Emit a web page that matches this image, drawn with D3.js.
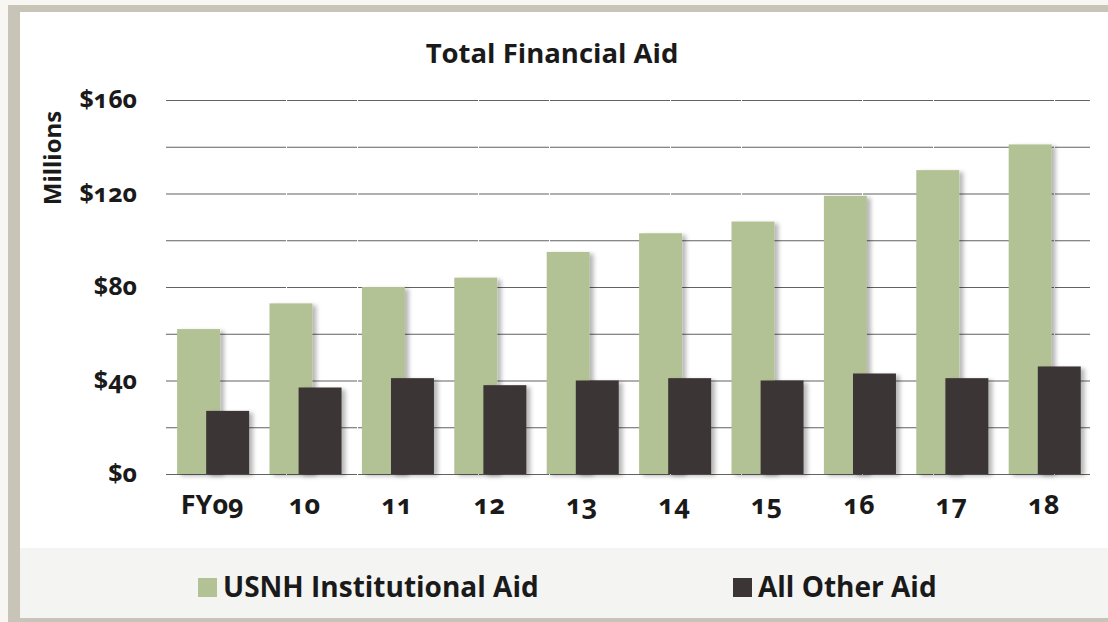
<!DOCTYPE html>
<html>
<head>
<meta charset="utf-8">
<script src="https://cdn.jsdelivr.net/npm/d3@7"></script>
<style>
  html, body { margin: 0; padding: 0; background: #ffffff; }
  svg { display: block; }
  text { font-family: "Open Sans", "Noto Sans", sans-serif; font-weight: 700; fill: #1a1a1a;
         font-variant-numeric: oldstyle-nums; font-feature-settings: "onum" 1; }
</style>
</head>
<body>
<svg id="chart" width="1108" height="622"></svg>
<script>
// Fiscal years on the category axis
const categories = ["FY09", "10", "11", "12", "13", "14", "15", "16", "17", "18"];
// Aid totals, $ millions
const institutionalAid = [62, 73, 80, 84, 95, 103, 108, 119, 130, 141];
const otherAid = [27, 37, 41, 38, 40, 41, 40, 43, 41, 46];
// Axis ticks
const yTickValues = [0, 40, 80, 120, 160];
const yGridValues = [0, 20, 40, 60, 80, 100, 120, 140, 160];
const seriesNames = ["USNH Institutional Aid", "All Other Aid"];

const W = 1108, H = 622;
const green = "#b3c295", dark = "#3b3535";

const svg = d3.select("#chart");

const defs = svg.append("defs");
const shadow = defs.append("filter").attr("id", "barShadow")
  .attr("x", "-20%").attr("y", "-5%").attr("width", "150%").attr("height", "115%");
shadow.append("feDropShadow").attr("dx", 4).attr("dy", 2).attr("stdDeviation", 2.2)
  .attr("flood-color", "#000").attr("flood-opacity", 0.28);

// Card frame and legend band
svg.append("rect").attr("x", 0).attr("y", 0).attr("width", W).attr("height", H).attr("fill", "#f7f6f2");
svg.append("rect").attr("x", 8).attr("y", 5).attr("width", W).attr("height", 617).attr("fill", "#c9c4b8");
svg.append("rect").attr("x", 20).attr("y", 12).attr("width", W).attr("height", 606).attr("fill", "#ffffff");
svg.append("rect").attr("x", 20).attr("y", 548).attr("width", W).attr("height", 70).attr("fill", "#f4f4f2");

const x = d3.scaleBand().domain(categories).range([166, 1090]).paddingInner(0).paddingOuter(0);
const y = d3.scaleLinear().domain([0, 160]).range([474, 100]);
const bw = x.bandwidth();

// Gridlines
svg.append("g").attr("class", "grid")
  .attr("transform", "translate(166,0)")
  .call(d3.axisLeft(y).tickValues(yGridValues).tickSize(-(1090 - 166)).tickFormat(""))
  .call(g => g.select(".domain").remove())
  .call(g => g.selectAll("line").attr("stroke", "#626260").attr("stroke-width", 1.2)
    .attr("stroke-dasharray", "120,1,70,1"));

// Institutional aid bars (behind)
svg.append("g").selectAll("rect").data(institutionalAid).join("rect")
  .attr("x", (d, i) => x(categories[i]) + bw * 0.12)
  .attr("width", bw * 0.465)
  .attr("y", d => y(d))
  .attr("height", d => y(0) - y(d))
  .attr("fill", green)
  .attr("filter", "url(#barShadow)");

// All other aid bars (front)
svg.append("g").selectAll("rect").data(otherAid).join("rect")
  .attr("x", (d, i) => x(categories[i]) + bw * 0.435)
  .attr("width", bw * 0.465)
  .attr("y", d => y(d))
  .attr("height", d => y(0) - y(d))
  .attr("fill", dark)
  .attr("filter", "url(#barShadow)");

// Y axis labels
svg.append("g")
  .attr("transform", "translate(137,0)")
  .call(d3.axisLeft(y).tickValues(yTickValues).tickSize(0).tickPadding(0).tickFormat(d => "$" + d))
  .call(g => g.select(".domain").remove())
  .call(g => g.selectAll("text").attr("font-size", 25).attr("dy", "0.3em")
    .style("font-family", "'Open Sans', sans-serif").attr("fill", "#1a1a1a"));

// X axis labels
svg.append("g")
  .attr("transform", "translate(0,474)")
  .call(d3.axisBottom(x).tickSize(0).tickPadding(0))
  .call(g => g.select(".domain").remove())
  .call(g => g.selectAll("text").attr("font-size", 27).attr("dy", 0).attr("y", 40)
    .style("font-family", "'Open Sans', sans-serif").attr("fill", "#1a1a1a"));

// Title and axis title
svg.append("text").attr("x", 552).attr("y", 63).attr("text-anchor", "middle")
  .attr("font-size", 27.5).text("Total Financial Aid");
svg.append("text").attr("transform", "translate(61,158) rotate(-90)").attr("text-anchor", "middle")
  .attr("font-size", 24).text("Millions");

// Legend
const legend = [
  { name: seriesNames[0], color: green, x: 198 },
  { name: seriesNames[1], color: dark, x: 733 }
];
const lg = svg.append("g").selectAll("g").data(legend).join("g")
  .attr("transform", d => `translate(${d.x},578)`);
lg.append("rect").attr("width", 19).attr("height", 19).attr("fill", d => d.color);
lg.append("text").attr("x", 25).attr("y", 19).attr("font-size", 28).text(d => d.name);
</script>
</body>
</html>
